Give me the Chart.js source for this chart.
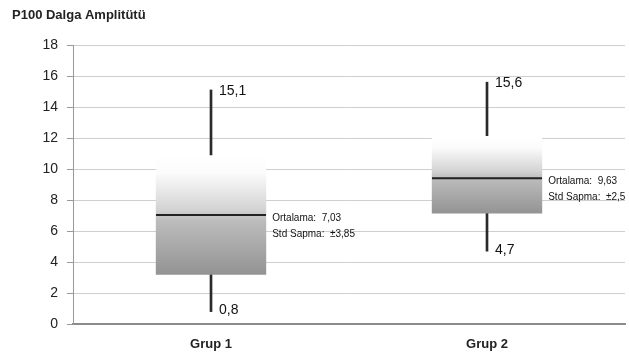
<!DOCTYPE html>
<html>
<head>
<meta charset="utf-8">
<script src="https://cdn.jsdelivr.net/npm/chart.js@4/dist/chart.umd.min.js"></script>
<style>
  html, body { margin: 0; padding: 0; background: #fff; }
  #wrap { width: 629px; height: 354px; position: relative; }
</style>
</head>
<body>
<div id="wrap"><canvas id="myChart" width="629" height="354"></canvas></div>
<script>
// chart values
const groups = ['Grup 1', 'Grup 2'];
const mins = [0.8, 4.7];
const maxs = [15.1, 15.6];
const boxLow = [3.18, 7.13];
const boxHigh = [10.88, 12.13];
const medians = [7.03, 9.4];
const meanText = ['7,03', '9,63'];
const sdText = ['±3,85', '±2,5'];
const minText = ['0,8', '4,7'];
const maxText = ['15,1', '15,6'];
const yTicks = [0, 2, 4, 6, 8, 10, 12, 14, 16, 18];

const boxData = groups.map((g, i) => [boxLow[i], boxHigh[i]]);
const whiskerData = groups.map((g, i) => [mins[i], maxs[i]]);

function boxGradient(context) {
    const chart = context.chart;
    const y = chart.scales.y;
    if (!chart.chartArea || !y || !context.raw) return '#bbb';
    const top = y.getPixelForValue(context.raw[1]);
    const bottom = y.getPixelForValue(context.raw[0]);
    const g = chart.ctx.createLinearGradient(0, top, 0, bottom);
    g.addColorStop(0, '#ffffff');
    g.addColorStop(0.15, '#fbfbfb');
    g.addColorStop(0.45, '#d4d4d4');
    g.addColorStop(0.55, '#bcbcbc');
    g.addColorStop(1, '#939393');
    return g;
}

// labels next to whiskers and boxes, plus the title
const labelPlugin = {
    id: 'labels',
    afterDatasetsDraw(chart) {
        const ctx = chart.ctx;
        const x = chart.scales.x;
        const y = chart.scales.y;
        const boxes = chart.getDatasetMeta(1).data;
        ctx.save();
        ctx.fillStyle = '#111';
        ctx.textBaseline = 'middle';
        ctx.textAlign = 'left';
        groups.forEach((g, i) => {
            const cx = x.getPixelForValue(i);
            ctx.font = '14px "Liberation Sans", Arial, sans-serif';
            ctx.fillText(maxText[i], cx + 8, y.getPixelForValue(maxs[i]) + 1);
            ctx.fillText(minText[i], cx + 8, y.getPixelForValue(mins[i]) - 1);
            const right = boxes[i].x + boxes[i].width / 2;
            const my = y.getPixelForValue(medians[i]);
            ctx.font = '10px "Liberation Sans", Arial, sans-serif';
            ctx.fillText('Ortalama:  ' + meanText[i], right + 6, my + 3);
            ctx.fillText('Std Sapma:  ' + sdText[i], right + 6, my + 19);
        });
        ctx.font = 'bold 13px "Liberation Sans", Arial, sans-serif';
        ctx.textBaseline = 'alphabetic';
        ctx.fillStyle = '#222';
        ctx.fillText('P100 Dalga Amplitütü', 12, 19);
        ctx.restore();
    }
};

const ctx = document.getElementById('myChart').getContext('2d');
const myChart = new Chart(ctx, {
    type: 'bar',
    data: {
        labels: groups,
        datasets: [{
            label: 'whisker',
            data: whiskerData,
            backgroundColor: '#2a2a2a',
            barThickness: 2,
            grouped: false,
            order: 3
        }, {
            label: 'box',
            data: boxData,
            backgroundColor: boxGradient,
            barPercentage: 0.4,
            categoryPercentage: 1,
            grouped: false,
            order: 2
        }, {
            type: 'line',
            label: 'median',
            data: medians,
            showLine: false,
            pointStyle: 'line',
            pointRadius: 55,
            pointHoverRadius: 55,
            pointBorderWidth: 2,
            borderColor: '#222',
            pointBorderColor: '#222',
            order: 1
        }]
    },
    options: {
        responsive: false,
        animation: false,
        events: [],
        layout: { autoPadding: false, padding: { left: 0, right: 4, top: 45, bottom: 0 } },
        plugins: {
            legend: { display: false },
            tooltip: { enabled: false },
            title: { display: false }
        },
        scales: {
            x: {
                afterFit(scale) { scale.height = 30; },
                grid: { display: false, drawTicks: false },
                border: { display: true, color: '#8c8c8c', width: 2 },
                ticks: {
                    color: '#222',
                    padding: 13,
                    font: { family: '"Liberation Sans", Arial, sans-serif', size: 13, weight: 'bold' }
                }
            },
            y: {
                min: 0,
                max: 18,
                afterBuildTicks(scale) {
                    scale.ticks = yTicks.map(v => ({ value: v }));
                },
                afterFit(scale) { scale.width = 73; },
                grid: { color: '#cfcfcf', tickLength: 6, tickColor: '#999' },
                border: { display: true, color: '#999', width: 1 },
                ticks: {
                    color: '#222',
                    padding: 9,
                    font: { family: '"Liberation Sans", Arial, sans-serif', size: 14 }
                }
            }
        }
    },
    plugins: [labelPlugin]
});
</script>
</body>
</html>
